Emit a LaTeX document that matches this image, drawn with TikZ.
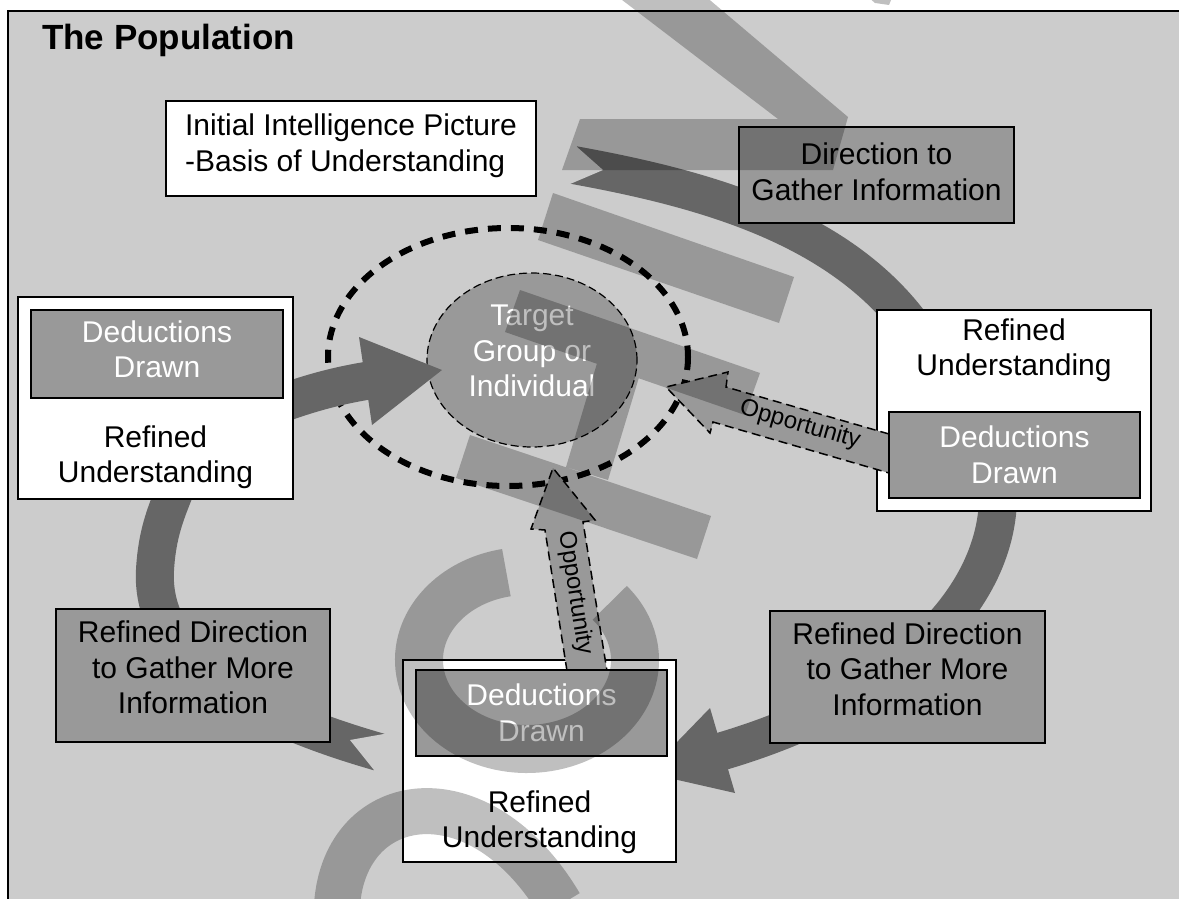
\documentclass[tikz,border=0pt]{standalone}
\usepackage{fontspec}
\setmainfont{Liberation Sans}
\usetikzlibrary{shapes.geometric}

\definecolor{framegrey}{HTML}{CCCCCC}
\definecolor{midgrey}{HTML}{999999}
\definecolor{darkgrey}{HTML}{666666}

\tikzset{
  box/.style={draw, line width=2pt, inner sep=0pt, align=center,
              font=\fontsize{30}{35.5}\selectfont},
  whitebox/.style={box, fill=white},
  greybox/.style={box, fill=midgrey},
  plaintext/.style={inner sep=0pt, align=center, font=\fontsize{30}{35.5}\selectfont},
  loopband/.style={darkgrey, line width=38pt},
  opparrow/.style={fill=midgrey, draw, line width=1.5pt, dash pattern=on 9pt off 5pt},
  opptext/.style={inner sep=0pt, font=\fontsize{24}{28}\selectfont},
  wmark/.style={black, opacity=0.25}
}

\begin{document}
\begin{tikzpicture}[x=1pt,y=-1pt]
\useasboundingbox (0,0) rectangle (1179,899);
\clip (0,0) rectangle (1179,899);
\fill [white] (0,0) rectangle (1179,899);

% the population
\draw [fill=framegrey, line width=2.5pt] (8,11) rectangle (1200,920);
\node (title) [anchor=base west, inner sep=0pt, font=\fontsize{35}{40}\selectfont\bfseries] at (42,50) {The Population};

% ends of the loop arrows
\coordinate (tailA) at (573.5,165);
\coordinate (endA) at (915,330);
\coordinate (startB) at (998,500);
\coordinate (headB) at (716,753);
\coordinate (tailC) at (379,752);
\coordinate (endC) at (175,490);
\coordinate (startD) at (240,420);
\coordinate (headD) at (372,380);

% ring round the target
\draw [line width=6pt, dash pattern=on 13pt off 10pt] (508,357) ellipse [x radius=180, y radius=129];
\node (target) [ellipse, fill=midgrey, draw, line width=1.2pt, dash pattern=on 8pt off 4pt,
  minimum width=210pt, minimum height=174pt, inner sep=0pt] at (532,360) {};
\node (targettext) [plaintext, text=white] at (532,351) {Target\\Group or\\Individual};

% loop arrow A, from the top down to the right
\draw [loopband] (tailA) .. controls (700,188) and (840,225) .. (endA);
\fill [framegrey] (603,170) -- (566.6,137.8) -- (555,165) -- (559,188.7) -- cycle;

% loop arrow B, down to the bottom box
\draw [loopband] (startB) .. controls (995,600) and (900,700) .. (headB);
\fill [darkgrey] (647,773) -- (710,708) -- (735,793) -- cycle;

% loop arrow C, up the left side
\draw [loopband] (tailC) .. controls (250,715) and (150,660) .. (155,570)
  .. controls (157,535) and (165,515) .. (endC);
\fill [framegrey] (350,740) -- (395,732) -- (400,760) -- (382,780) -- cycle;

% loop arrow D, into the target
\draw [loopband] (startD) .. controls (280,403) and (320,388) .. (headD);
\fill [darkgrey] (442,370) -- (359,337) -- (372,425) -- cycle;

% top boxes
\node (initial) [whitebox, align=left, text depth=12pt, minimum width=370pt, minimum height=95pt] at (351,148.5)
  {Initial Intelligence Picture\\-Basis of Understanding};
\node (direction) [greybox, text depth=7pt, minimum width=275pt, minimum height=96pt] at (876.5,175)
  {Direction to\\Gather Information};

% left box
\node (leftouter) [whitebox, minimum width=275pt, minimum height=202pt] at (155.5,398) {};
\node (leftdeduct) [greybox, text=white, text depth=10pt, minimum width=252pt, minimum height=88pt] at (157,354) {Deductions\\Drawn};
\node (leftrefined) [plaintext] at (155.5,457) {Refined\\Understanding};

% right box
\node (rightouter) [whitebox, minimum width=274pt, minimum height=201pt] at (1014,410.5) {};
\node (rightrefined) [plaintext] at (1014,350) {Refined\\Understanding};
\draw [opparrow] (889,434) -- (726,387) -- (728,372) -- (666,387) -- (710,433) -- (713,422) -- (889,473);
\node (rightopp) [opptext, rotate=-16] at (800,425) {Opportunity};
\node (rightdeduct) [greybox, text=white, minimum width=251pt, minimum height=86pt] at (1014.5,455) {Deductions\\Drawn};

% bottom box
\node (bottomouter) [whitebox, minimum width=273pt, minimum height=202pt] at (539.5,761) {};
\node (bottomrefined) [plaintext] at (539.5,822) {Refined\\Understanding};
\draw [opparrow] (567,671) -- (545,530) -- (531,529) -- (553,468) -- (595,520) -- (583,522) -- (607,671);
\node (bottomopp) [opptext, rotate=-81] at (575,593) {Opportunity};
\node (bottomdeduct) [greybox, text=white, minimum width=251pt, minimum height=86pt] at (541.5,713) {Deductions\\Drawn};

% direction boxes at the bottom
\node (leftdir) [greybox, text depth=16pt, minimum width=274pt, minimum height=133pt] at (193,675.5)
  {Refined Direction\\to Gather More\\Information};
\node (rightdir) [greybox, text depth=16pt, minimum width=275pt, minimum height=132pt] at (907.5,677)
  {Refined Direction\\to Gather More\\Information};

% watermark over everything
\fill [wmark] (609,-10) -- (698,-10) -- (848,117) -- (833,170) -- (562,170) -- (580,119) -- (778,119) -- cycle
  (860,-10) -- (895,-10) -- (889,5) -- (875,3) -- cycle
  (553,193) -- (794,277) -- (779,323) -- (538,240) -- cycle
  (520,290) -- (760,373) -- (745,415) -- (505,332) -- cycle
  (598,360) -- (640,374) -- (608,480) -- (566,467) -- cycle
  (470,435) -- (711,516) -- (697,559) -- (456,478) -- cycle;
\draw [wmark, line width=48pt] (527,660) ++(-101:108 and 89)
  arc [start angle=-101, end angle=-400, x radius=108, y radius=89];
\draw [wmark, line width=46pt] (337,905) .. controls (345,790) and (480,770) .. (560,905);

\end{tikzpicture}
\end{document}
